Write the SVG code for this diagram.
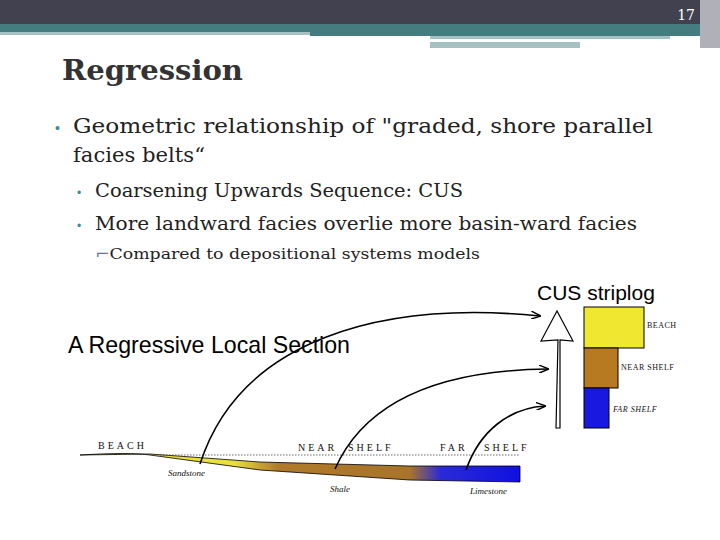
<svg xmlns="http://www.w3.org/2000/svg" width="720" height="540" viewBox="0 0 720 540">
<style>
.t{font-family:"DejaVu Serif","Liberation Serif",serif;fill:#222}
.s{font-family:"Liberation Serif",serif;font-style:italic;font-size:9px;fill:#111}
.lab{font-family:"Liberation Serif",serif;font-size:10px;letter-spacing:3px;fill:#111}
.c{fill:none;stroke:#000;stroke-width:1.6}
</style>
<defs><marker id="a" markerWidth="10" markerHeight="8" refX="9" refY="4" orient="auto" markerUnits="userSpaceOnUse"><path d="M0,0 L10,4 L0,8" fill="none" stroke="#000" stroke-width="1.4"/></marker>
<linearGradient id="g" x1="0" x2="1"><stop offset="0" stop-color="#ece33a"/><stop offset="0.35" stop-color="#e8e040"/><stop offset="0.45" stop-color="#b07a2a"/><stop offset="0.75" stop-color="#a8742a"/><stop offset="0.82" stop-color="#2a2ad8"/><stop offset="1" stop-color="#1010e0"/></linearGradient></defs>
<rect width="720" height="540" fill="#fff"/>
<rect width="720" height="24" fill="#414150"/>
<rect y="24" width="720" height="8" fill="#457c80"/>
<rect y="32" width="310" height="3" fill="#a6c1c1"/>
<rect x="310" y="32" width="400" height="4" fill="#457c80"/>
<rect x="430" y="36" width="240" height="3" fill="#a6c1c1"/>
<rect x="430" y="42" width="150" height="6" fill="#a6c1c1"/>
<rect x="700" y="0" width="20" height="48" fill="#b0b0b8"/>
<text x="695" y="20" class="t" font-size="14" style="fill:#fff" text-anchor="end">17</text>
<text x="62" y="80" class="t" font-size="28" font-weight="bold" style="fill:#333" textLength="181" lengthAdjust="spacingAndGlyphs">Regression</text>
<text x="55" y="133" font-size="14" fill="#3c8a92" font-family="Liberation Sans">•</text>
<text x="73" y="133" class="t" font-size="21" textLength="580" lengthAdjust="spacingAndGlyphs">Geometric relationship of "graded, shore parallel</text>
<text x="73" y="162" class="t" font-size="21" textLength="132" lengthAdjust="spacingAndGlyphs">facies belts“</text>
<text x="77" y="197" font-size="12" fill="#3c8a92" font-family="Liberation Sans">•</text>
<text x="95" y="197" class="t" font-size="18" textLength="368" lengthAdjust="spacingAndGlyphs">Coarsening Upwards Sequence: CUS</text>
<text x="77" y="230" font-size="12" fill="#3c8a92" font-family="Liberation Sans">•</text>
<text x="95" y="230" class="t" font-size="18" textLength="542" lengthAdjust="spacingAndGlyphs">More landward facies overlie more basin-ward facies</text>
<text x="95" y="259" class="t" font-size="15" textLength="385" lengthAdjust="spacingAndGlyphs"><tspan style="fill:#3c8a92">⌐</tspan>Compared to depositional systems models</text>
<g id="title"><text x="68" y="353" font-family="Liberation Sans" font-size="24" textLength="282" lengthAdjust="spacingAndGlyphs">A Regressive Local Section</text></g>
<g id="section">
<path d="M80,455 Q130,452 150,455 L260,470 L410,480 L520,482 L520,466 L410,466 L260,462 L150,454 Z" fill="url(#g)" stroke="#000" stroke-width="0.8"/>
<line x1="160" y1="455" x2="520" y2="455" stroke="#444" stroke-dasharray="1.5 1.5" stroke-width="0.8"/>
<text x="98" y="449" class="lab">BEACH</text>
<text x="298" y="451" class="lab">NEAR</text><text x="348" y="451" class="lab">SHELF</text>
<text x="440" y="451" class="lab">FAR</text><text x="484" y="451" class="lab">SHELF</text>
<text x="168" y="476" class="s">Sandstone</text>
<text x="330" y="492" class="s">Shale</text>
<text x="470" y="494" class="s">Limestone</text>
</g>
<g id="connectors">
<path class="c" marker-end="url(#a)" d="M200,464 C240,340 380,300 540,316"/>
<path class="c" marker-end="url(#a)" d="M335,469 C370,390 460,370 548,369"/>
<path class="c" marker-end="url(#a)" d="M466,470 C480,430 510,408 545,406"/>
</g>
<g id="striplog">
<path d="M556,428 L558,340 L541,341 L557,311 L573,341 L560,340 L560,428 Z" fill="#fff" stroke="#000" stroke-width="1.2"/>
<text x="537" y="300" font-family="Liberation Sans" font-size="21" fill="#000">CUS striplog</text>
<rect x="584" y="307" width="60" height="41" fill="#f0e830" stroke="#000"/>
<rect x="584" y="348" width="34" height="40" fill="#b87a20" stroke="#000"/>
<rect x="584" y="388" width="25" height="40" fill="#1818e0" stroke="#000"/>
<text x="647" y="328" class="lab" style="font-size:8px;letter-spacing:0.5px">BEACH</text>
<text x="621" y="370" class="lab" style="font-size:8px;letter-spacing:0.5px">NEAR SHELF</text>
<text x="613" y="412" class="lab" style="font-size:8px;letter-spacing:0.5px;font-style:italic">FAR SHELF</text>
</g>
</svg>
